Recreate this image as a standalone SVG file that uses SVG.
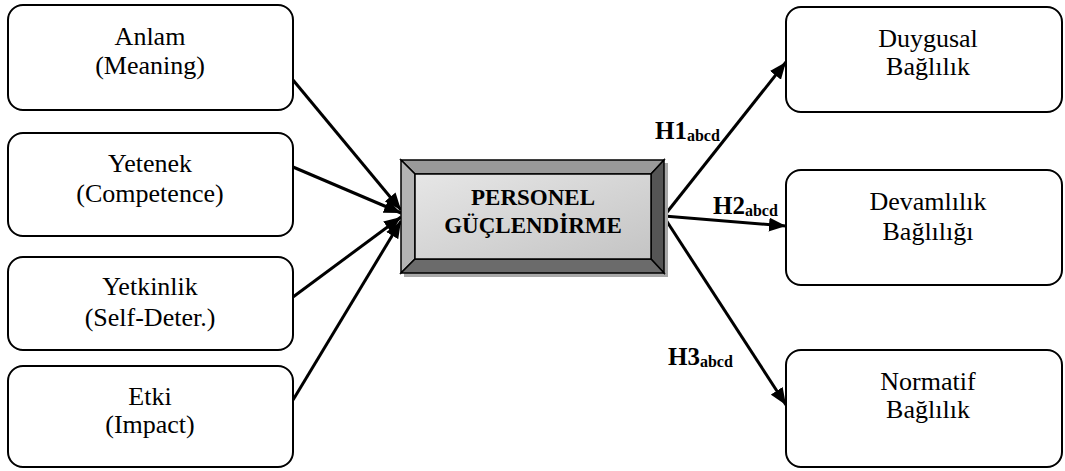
<svg xmlns="http://www.w3.org/2000/svg" width="1065" height="471" viewBox="0 0 1065 471">
<style>
.box{fill:#fff;stroke:#000;stroke-width:2}
.t{font-family:"Liberation Serif","Times New Roman",serif;font-size:26px;fill:#000;text-anchor:middle}
.c{font-family:"Liberation Serif","Times New Roman",serif;font-size:23px;font-weight:bold;fill:#000;text-anchor:middle}
.h{font-family:"Liberation Serif","Times New Roman",serif;font-size:25px;font-weight:bold;fill:#000}
.h tspan{font-size:16px}
.arr{stroke:#000;stroke-width:3;fill:none;marker-end:url(#ah)}
.bev{stroke:#000;stroke-width:1.5;stroke-linejoin:miter}
</style>
<defs>
<marker id="ah" markerUnits="userSpaceOnUse" markerWidth="18" markerHeight="14" refX="17" refY="7" orient="auto">
<path d="M0,0 L17,7 L0,14 Z" fill="#000"/>
</marker>
<linearGradient id="face" x1="0" y1="0" x2="1" y2="1">
<stop offset="0" stop-color="#e6e6e6"/>
<stop offset="1" stop-color="#c4c4c4"/>
</linearGradient>
</defs>
<g id="connectors">
<line class="arr" x1="293" y1="80" x2="401" y2="210"/>
<line class="arr" x1="293" y1="167" x2="401" y2="213"/>
<line class="arr" x1="293" y1="297" x2="401" y2="217"/>
<line class="arr" x1="293" y1="400" x2="401" y2="221"/>
<line class="arr" x1="664" y1="216" x2="786" y2="62"/>
<line class="arr" x1="664" y1="216" x2="786" y2="226"/>
<line class="arr" x1="664" y1="217" x2="786" y2="405"/>
<text class="h" x="655" y="139">H1<tspan dy="2">abcd</tspan></text>
<text class="h" x="713" y="214">H2<tspan dy="2">abcd</tspan></text>
<text class="h" x="668" y="365">H3<tspan dy="2">abcd</tspan></text>
</g>
<g id="anlam">
<rect class="box" x="8" y="5" width="285" height="105" rx="15"/>
<text class="t" x="150" y="45">Anlam</text>
<text class="t" x="150" y="74">(Meaning)</text>
</g>
<g id="yetenek">
<rect class="box" x="8" y="133" width="285" height="103" rx="15"/>
<text class="t" x="150" y="172">Yetenek</text>
<text class="t" x="150" y="202">(Competence)</text>
</g>
<g id="yetkinlik">
<rect class="box" x="8" y="257" width="285" height="93" rx="15"/>
<text class="t" x="150" y="295">Yetkinlik</text>
<text class="t" x="150" y="326">(Self-Deter.)</text>
</g>
<g id="etki">
<rect class="box" x="8" y="366" width="285" height="101" rx="15"/>
<text class="t" x="150" y="405">Etki</text>
<text class="t" x="150" y="433">(Impact)</text>
</g>
<g id="personel">
<rect x="404" y="163" width="264" height="114" fill="#a8a8a8"/>
<polygon class="bev" points="401,160 664,160 651,174 415,174" fill="#999"/>
<polygon class="bev" points="401,160 415,174 415,259 401,273" fill="#b3b3b3"/>
<polygon class="bev" points="664,160 664,273 651,259 651,174" fill="#555"/>
<polygon class="bev" points="401,273 664,273 651,259 415,259" fill="#6b6b6b"/>
<rect class="bev" x="415" y="174" width="236" height="85" fill="url(#face)"/>
<text class="c" x="533" y="205">PERSONEL</text>
<text class="c" x="533" y="233">GÜÇLENDİRME</text>
</g>
<g id="duygusal">
<rect class="box" x="786" y="7" width="276" height="105" rx="15"/>
<text class="t" x="928" y="47">Duygusal</text>
<text class="t" x="928" y="75">Bağlılık</text>
</g>
<g id="devamlilik">
<rect class="box" x="786" y="170" width="276" height="115" rx="15"/>
<text class="t" x="928" y="210">Devamlılık</text>
<text class="t" x="928" y="240">Bağlılığı</text>
</g>
<g id="normatif">
<rect class="box" x="786" y="350" width="276" height="117" rx="15"/>
<text class="t" x="928" y="390">Normatif</text>
<text class="t" x="928" y="418">Bağlılık</text>
</g>
</svg>
